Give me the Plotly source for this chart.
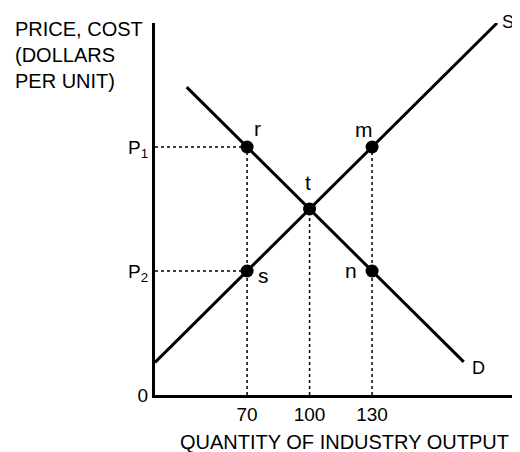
import plotly.graph_objects as go

# ---------------------------------------------------------------------------
# Data (quantity of industry output, price in arbitrary units)
# ---------------------------------------------------------------------------
QTY_TICKS = [70, 100, 130]
QTY_TICK_TEXT = ["70", "100", "130"]
PRICE_TICKS = [12, 6, 0]
PRICE_TICK_TEXT = ["P<sub>1</sub>", "P<sub>2</sub>", "0"]

SUPPLY_Q = [25.8, 190]
SUPPLY_P = [1.58, 18.0]
DEMAND_Q = [41, 174]
DEMAND_P = [14.9, 1.6]

POINT_NAMES = ["r", "t", "m", "s", "n"]
POINT_Q = [70, 100, 130, 70, 130]
POINT_P = [12, 9, 12, 6, 6]

X_RANGE = [25.8, 201]
Y_RANGE = [0, 18]

FONT = "Liberation Sans, Arial, sans-serif"
INK = "#000000"

fig = go.Figure()

# Dotted guide lines: horizontals to r and s, verticals from r, t, m
gx, gy = [], []
for q, p in [(70, 12), (70, 6)]:
    gx += [X_RANGE[0], q, None]
    gy += [p, p, None]
for q, p in [(70, 12), (100, 9), (130, 12)]:
    gx += [q, q, None]
    gy += [0, p, None]
fig.add_trace(go.Scatter(
    x=gx, y=gy, mode="lines",
    line=dict(color=INK, width=1.5, dash="3px,3px"),
    hoverinfo="skip", showlegend=False,
))

# Supply and demand curves
fig.add_trace(go.Scatter(
    x=SUPPLY_Q, y=SUPPLY_P, mode="lines",
    line=dict(color=INK, width=3), showlegend=False,
))
fig.add_trace(go.Scatter(
    x=DEMAND_Q, y=DEMAND_P, mode="lines",
    line=dict(color=INK, width=3), showlegend=False,
))

# Points
fig.add_trace(go.Scatter(
    x=POINT_Q, y=POINT_P, mode="markers",
    marker=dict(color=INK, size=13),
    text=POINT_NAMES, hovertemplate="%{text}<extra></extra>",
    showlegend=False,
))

# Point labels (offsets in pixels)
label_offsets = {
    "r": (10, 19), "t": (-2, 27), "m": (-8, 18),
    "s": (16, -4), "n": (-21, 1),
}
for name, q, p in zip(POINT_NAMES, POINT_Q, POINT_P):
    dx, dy = label_offsets[name]
    fig.add_annotation(
        x=q, y=p, text=name, showarrow=False,
        xshift=dx, yshift=dy, font=dict(size=21, color=INK, family=FONT),
    )

# Curve labels
fig.add_annotation(x=SUPPLY_Q[-1], y=SUPPLY_P[-1], text="S", showarrow=False,
                   xshift=11, yshift=1, font=dict(size=18, color=INK, family=FONT))
fig.add_annotation(x=DEMAND_Q[-1], y=DEMAND_P[-1], text="D", showarrow=False,
                   xshift=15, yshift=-6, font=dict(size=18, color=INK, family=FONT))

# Axis titles
fig.add_annotation(
    xref="paper", yref="paper", x=-0.389, y=1.018,
    xanchor="left", yanchor="top", align="left", showarrow=False,
    text="PRICE, COST<br>(DOLLARS<br>PER UNIT)",
    font=dict(size=20, color=INK, family=FONT),
)
fig.add_annotation(
    xref="paper", yref="paper", x=0.518, y=-0.126,
    xanchor="center", yanchor="middle", showarrow=False,
    text="QUANTITY OF INDUSTRY OUTPUT",
    font=dict(size=20, color=INK, family=FONT),
)

fig.update_xaxes(
    range=X_RANGE, showgrid=False, zeroline=False,
    showline=True, linecolor=INK, linewidth=3,
    tickvals=QTY_TICKS, ticktext=QTY_TICK_TEXT, ticks="",
    tickfont=dict(size=19, color=INK, family=FONT),
)
fig.update_yaxes(
    range=Y_RANGE, showgrid=False, zeroline=False,
    showline=True, linecolor=INK, linewidth=3,
    tickvals=PRICE_TICKS, ticktext=PRICE_TICK_TEXT, ticks="",
    tickfont=dict(size=19, color=INK, family=FONT),
)

# the page body adds an 8px margin, so the figure is 8px smaller each way
fig.update_layout(
    width=512, height=444,
    margin=dict(l=147, r=0, t=15, b=57),
    paper_bgcolor="white", plot_bgcolor="white",
    showlegend=False,
)

fig.write_html("out.html")
